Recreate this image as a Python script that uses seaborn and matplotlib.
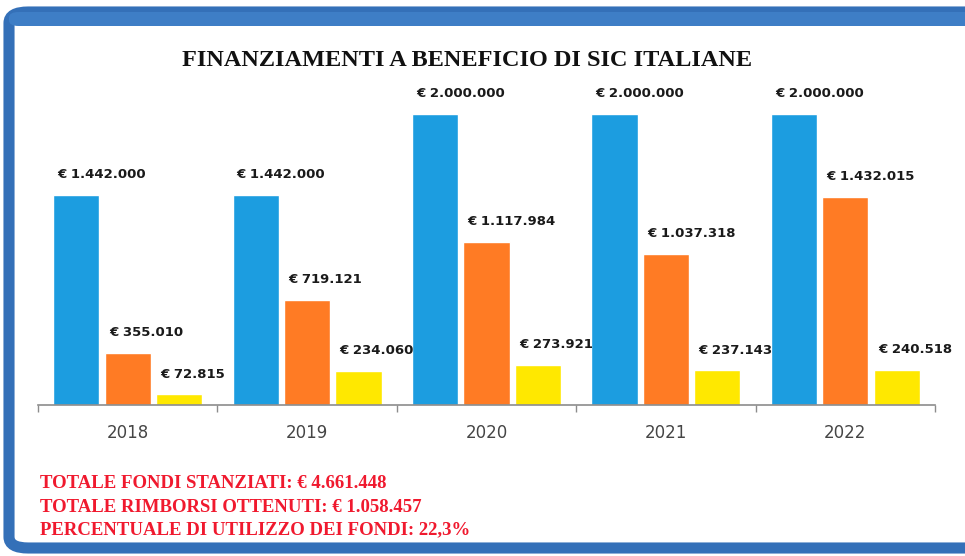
import pandas as pd
import numpy as np
import matplotlib
matplotlib.use("Agg")
import matplotlib.pyplot as plt
import seaborn as sns
from matplotlib.patches import FancyBboxPatch

sns.set_theme(style="white")
plt.rcParams["font.family"] = ["DejaVu Sans"]

years = ["2018", "2019", "2020", "2021", "2022"]
fondi_stanziati = [1442000, 1442000, 2000000, 2000000, 2000000]
fondi_richiesti = [355010, 719121, 1117984, 1037318, 1432015]
rimborsi_ottenuti = [72815, 234060, 273921, 237143, 240518]
series_names = ["Stanziati", "Richiesti", "Rimborsi"]
colors = ["#1C9DE0", "#FF7B24", "#FFE800"]

summary_lines = [
    "TOTALE FONDI STANZIATI: € 4.661.448",
    "TOTALE RIMBORSI OTTENUTI: € 1.058.457",
    "PERCENTUALE DI UTILIZZO DEI FONDI: 22,3%",
]

df = pd.DataFrame({
    "anno": years * 3,
    "serie": [s for s in series_names for _ in years],
    "valore": fondi_stanziati + fondi_richiesti + rimborsi_ottenuti,
})

W, H = 965, 556
fig = plt.figure(figsize=(W / 100, H / 100), dpi=100)
fig.patch.set_facecolor("white")

# blue rounded frame (cut on the right like the original)
frame = FancyBboxPatch((9 / W, 8 / H), 1.05, (H - 20) / H,
                       boxstyle="round,pad=0,rounding_size=0.02",
                       transform=fig.transFigure, facecolor="white",
                       edgecolor="#3470B8", linewidth=8, zorder=0)
fig.patches.append(frame)
band = FancyBboxPatch((9 / W, (H - 26) / H), 1.05, 14 / H,
                      boxstyle="round,pad=0,rounding_size=0.01",
                      transform=fig.transFigure, facecolor="#3E7EC6",
                      edgecolor="none", zorder=0)
fig.patches.append(band)

ax = fig.add_axes([38 / W, (H - 405) / H, 897 / W, 305 / H])
ax.set_zorder(2)
sns.barplot(data=df, x="anno", y="valore", hue="serie", palette=colors,
            saturation=1, width=0.86, gap=0.1, ax=ax, legend=False)

ax.set_ylim(0, 2000000 * 305 / 291)
ax.set_xlim(-0.5, len(years) - 0.5)
ax.set_facecolor("none")
for side in ["top", "right", "left"]:
    ax.spines[side].set_visible(False)
ax.spines["bottom"].set_color("#8C8C8C")
ax.spines["bottom"].set_linewidth(1.2)
ax.set_yticks([])
ax.set_xlabel("")
ax.set_ylabel("")
ax.tick_params(axis="x", length=0, pad=14, labelsize=12, labelcolor="#454545")
ax.set_xticks(np.arange(-0.5, len(years), 1.0), minor=True)
ax.tick_params(axis="x", which="minor", length=5, color="#8C8C8C", bottom=True)

# value labels, starting a little right of the bar's left edge
for cont in ax.containers:
    for bar, v in zip(cont, cont.datavalues):
        ax.annotate("€ " + f"{v:,.0f}".replace(",", "."),
                    xy=(bar.get_x(), bar.get_height()),
                    xytext=(3, 10), textcoords="offset points",
                    ha="left", va="bottom", fontsize=9.5,
                    fontweight="bold", color="#1a1a1a")

fig.text(467 / W, 1 - 60 / H, "FINANZIAMENTI A BENEFICIO DI SIC ITALIANE",
         ha="center", va="center", fontsize=17.5, fontweight="bold",
         family="Liberation Serif", color="#111111")

for i, line in enumerate(summary_lines):
    fig.text(40 / W, 1 - (484 + 23 * i) / H, line, ha="left", va="center",
             fontsize=13.5, fontweight="bold", family="Liberation Serif",
             color="#F0192E")

fig.savefig("out.png", dpi=100)
